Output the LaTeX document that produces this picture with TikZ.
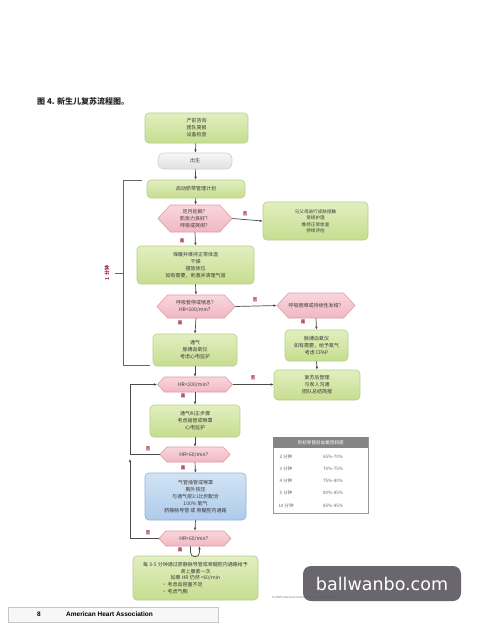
\documentclass[tikz,border=0pt]{standalone}
\usepackage{fontspec}
\setmainfont{Noto Sans CJK SC}
\newfontfamily\latinsans{Liberation Sans}
\newfontfamily\wmfont{DejaVu Sans}
\usetikzlibrary{shapes.symbols,arrows.meta}
\definecolor{gtop}{HTML}{E2EFC0}
\definecolor{gbot}{HTML}{C6DD8F}
\definecolor{gline}{HTML}{B5CF86}
\definecolor{ptop}{HTML}{F9D6DC}
\definecolor{pbot}{HTML}{F0B8C3}
\definecolor{pline}{HTML}{E09AA9}
\definecolor{btop}{HTML}{D2E4F5}
\definecolor{bbot}{HTML}{AECBEA}
\definecolor{bline}{HTML}{8FB2D6}
\definecolor{graytop}{HTML}{F7F7F7}
\definecolor{graybot}{HTML}{E0E0E0}
\definecolor{grayline}{HTML}{CFCFCF}
\definecolor{txt}{HTML}{3A3A3A}
\definecolor{lbl}{HTML}{A0293A}
\definecolor{conn}{HTML}{4A4A4A}
\definecolor{hdr}{HTML}{858585}
\definecolor{wm}{HTML}{5F5B63}
\begin{document}
\begin{tikzpicture}[x=1pt,y=-1pt,
  every node/.style={text=txt, font=\fontsize{5}{7}\selectfont, inner sep=0pt, align=center},
  gbox/.style={draw=gline, line width=0.6pt, rounded corners=4pt, top color=gtop, bottom color=gbot},
  graybox/.style={draw=grayline, line width=0.6pt, rounded corners=6pt, top color=graytop, bottom color=graybot},
  bbox/.style={draw=bline, line width=0.6pt, rounded corners=4pt, top color=btop, bottom color=bbot},
  hexa/.style={signal, signal to=east and west, signal pointer angle=95, draw=pline, line width=0.6pt, top color=ptop, bottom color=pbot},
  arr/.style={draw=conn, line width=0.7pt, -{Latex[length=3pt,width=2.6pt]}},
  ln/.style={draw=conn, line width=0.7pt},
  yn/.style={text=lbl, font=\fontsize{4.5}{5}\selectfont\bfseries},
  rowt/.style={text=black!60, font=\fontsize{4.5}{5}\selectfont},
]
\useasboundingbox (0,0) rectangle (500,641);
\fill[white] (0,0) rectangle (500,641);

% title
\node[anchor=west, text=black!85, font=\fontsize{8}{9}\selectfont\bfseries] (title) at (37,101) {图 4. 新生儿复苏流程图。};

% nodes
\node[gbox, minimum width=103pt, minimum height=30pt] (pre) at (196.5,128) {产前咨询\\团队简报\\设备检查};
\node[graybox, minimum width=74pt, minimum height=16pt] (birth) at (195,161) {出生};
\node[gbox, minimum width=98pt, minimum height=18pt] (cord) at (196,189) {启动脐带管理计划};
\node[hexa, minimum width=74pt, minimum height=27pt] (d1) at (195,218.5) {足月妊娠？\\肌张力良好？\\呼吸或哭闹？};
\node[gbox, minimum width=105pt, minimum height=38pt, font=\fontsize{4.6}{6.5}\selectfont] (routine) at (315.5,221) {与父母进行皮肤接触\\常规护理\\维持正常体温\\持续评估};
\node[gbox, minimum width=117pt, minimum height=38pt] (warm) at (195.5,265) {保暖并维持正常体温\\干燥\\摆放体位\\如有需要，刺激并清理气道};
\node[hexa, minimum width=78pt, minimum height=23pt] (d2) at (196,306.5) {呼吸暂停或喘息？\\HR<100/min？};
\node[hexa, minimum width=78pt, minimum height=25pt] (d2r) at (316,305.5) {呼吸困难或持续性发绀？};
\node[gbox, minimum width=84pt, minimum height=32pt] (ppv) at (195,350) {通气\\脉搏血氧仪\\考虑心电监护};
\node[gbox, minimum width=63pt, minimum height=31pt] (pox) at (316.5,345.5) {脉搏血氧仪\\如有需要，给予氧气\\考虑 CPAP};
\node[gbox, minimum width=86pt, minimum height=30pt] (post) at (317,385) {复苏后管理\\与家人沟通\\团队总结简报};
\node[hexa, minimum width=75pt, minimum height=15pt] (d3) at (195,384.5) {HR<100/min？};
\node[gbox, minimum width=90pt, minimum height=32pt] (vcs) at (195,421) {通气纠正步骤\\考虑插管或喉罩\\心电监护};
\node[hexa, minimum width=70pt, minimum height=15pt] (d4) at (195,454.5) {HR<60/min？};
\node[bbox, minimum width=101pt, minimum height=47pt] (cc) at (195.5,496.5) {气管插管或喉罩\\胸外按压\\与通气按3:1比例配合\\100\% 氧气\\脐静脉导管 或 骨髓腔内通路};
\node[hexa, minimum width=72pt, minimum height=15pt] (d5) at (195,538.5) {HR<60/min？};
\node[gbox, minimum width=125pt, minimum height=44pt] (epi) at (195.5,578) {\parbox{120pt}{\fontsize{5}{6.7}\selectfont\centering 每 3-5 分钟通过脐静脉导管或骨髓腔内通路给予\\肾上腺素一次\\如果 HR 仍然 <60/min\par\raggedright\hspace*{26pt}• 考虑血容量不足\\\hspace*{26pt}• 考虑气胸}};

% connectors
\draw[arr] (pre) -- (birth);
\draw[arr] (birth) -- (cord);
\draw[arr] (cord) -- (d1);
\draw[arr] (d1.east) -- (routine.west);
\draw[arr] (d1.south) -- (warm.north);
\draw[arr] (warm.south) -- (d2.north);
\draw[arr] (d2.east) -- (d2r.west);
\draw[arr] (d2.south) -- (ppv.north);
\draw[arr] (d2r.south) -- (pox.north);
\draw[arr] (pox.south) -- (post.north);
\draw[arr] (ppv.south) -- (d3.north);
\draw[arr] (d3.east) -- (post.west |- d3.east);
\draw[arr] (d3.south) -- (vcs.north);
\draw[arr] (vcs.south) -- (d4.north);
\draw[arr] (d4.south) -- (cc.north);
\draw[arr] (cc.south) -- (d5.north);
\coordinate (loopx) at (130,0);
\draw[arr] (d4.west) -| (loopx |- d3.west) -- (d3.west);
\coordinate (loopend) at (130,459);
\draw[arr] (d5.west) -| (loopend);
\draw[arr] ([xshift=-4.5pt]d5.south) -- ++(0,6) to[out=-90,in=-90,looseness=1.7] ++(9,0) -- ([xshift=4.5pt]d5.south);

% labels yes/no
\node[yn] at (245,214) {否};
\node[yn] at (182,241) {是};
\node[yn] at (255,300) {否};
\node[yn] at (180,323) {是};
\node[yn] at (303,322) {是};
\node[yn] at (253,378) {否};
\node[yn] at (183,396) {是};
\node[yn] at (148,449) {否};
\node[yn] at (183,468) {是};
\node[yn] at (148,533) {否};
\node[yn] at (180,550) {是};

% one-minute bracket
\coordinate (bt) at (142,180);
\coordinate (btc) at (123,180);
\coordinate (bbc) at (123,365);
\coordinate (bb) at (150,365);
\coordinate (bm) at (123,273);
\coordinate (bmt) at (115,273);
\draw[ln, draw=black!60] (bt) -- (btc) -- (bbc) -- (bb);
\draw[ln, draw=black!60] (bm) -- (bmt);
\node[text=lbl, rotate=90, font=\fontsize{5}{6}\selectfont\bfseries] (onemin) at (107,273) {1 分钟};

% table
\node[draw=black!40, line width=0.5pt, minimum width=95pt, minimum height=76pt, anchor=north west] (tab) at (273,437) {};
\node[fill=hdr, minimum width=95pt, minimum height=10.5pt, anchor=north west, text=white, font=\fontsize{4.6}{5}\selectfont] (tabh) at (273,437) {目标导管前血氧饱和度};
\node[rowt] at (286,457) {2 分钟}; \node[rowt] at (333,457) {65\%-70\%};
\node[rowt] at (286,469) {3 分钟}; \node[rowt] at (333,469) {70\%-75\%};
\node[rowt] at (286,481) {4 分钟}; \node[rowt] at (333,481) {75\%-80\%};
\node[rowt] at (286,493) {5 分钟}; \node[rowt] at (333,493) {80\%-85\%};
\node[rowt] at (286,506) {10 分钟}; \node[rowt] at (333,506) {85\%-95\%};

% footer
\draw[draw=black!22, fill=black!3, line width=0.6pt] (8,607) rectangle (218,622);
\node[anchor=west, text=black, font=\latinsans\bfseries\fontsize{6.5}{7}\selectfont] (pg) at (37,614.5) {8};
\node[anchor=west, text=black, font=\latinsans\bfseries\fontsize{6.5}{7}\selectfont] (aha) at (66,614.5) {American Heart Association};
\node[anchor=west, text=black!55, font=\latinsans\fontsize{3}{3.5}\selectfont] (copy) at (272,597) {© 2025 American Heart Association. \mbox{\rmfamily 保留所有权利。}};

% watermark
\node[fill=wm, fill opacity=0.93, text opacity=1, rounded corners=8pt, minimum width=158pt, minimum height=35pt, text=white, font=\wmfont\fontsize{17.5}{18}\selectfont] (wmk) at (382,583.5) {ballwanbo.com};
\end{tikzpicture}
\end{document}
